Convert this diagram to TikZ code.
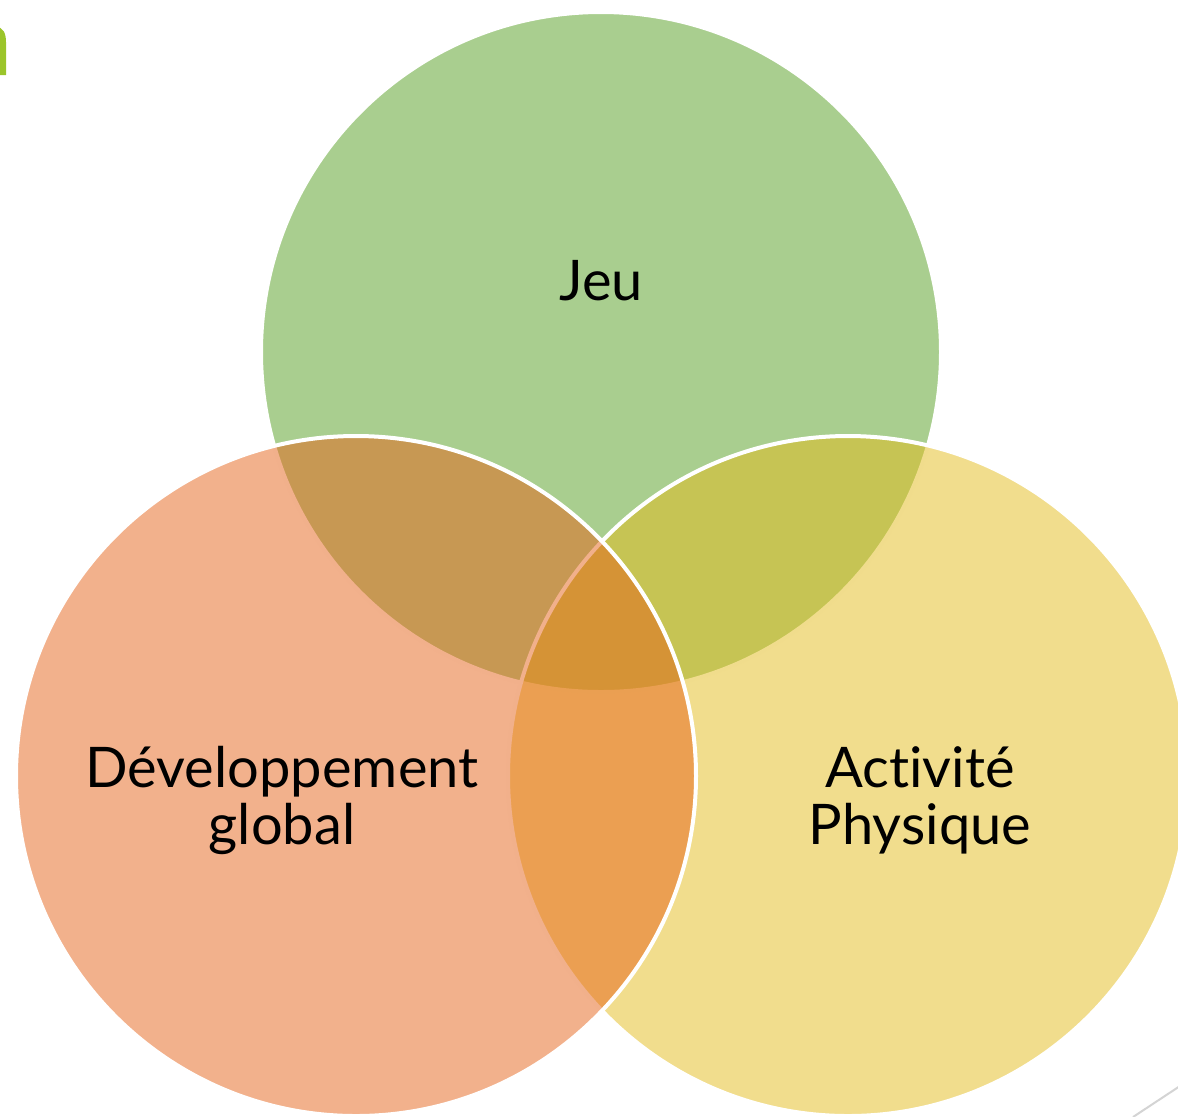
\documentclass[tikz,border=0pt]{standalone}
\usepackage{fontspec}
\setmainfont{Lato}[Ligatures={NoCommon}]
\usepackage{tikz}

\definecolor{jeucol}{HTML}{539D1F}
\definecolor{devcol}{HTML}{E56319}
\definecolor{actcol}{HTML}{E3BB1B}
\definecolor{barcol}{HTML}{9BC52A}
\definecolor{cornercol}{HTML}{D4D4D4}

\begin{document}
\begin{tikzpicture}[x=0.5pt, y=-0.5pt,
    venn/.style={circle, draw=white, line width=2pt, fill opacity=0.5, draw opacity=1, minimum size=340pt, inner sep=0pt},
    lbl/.style={align=center, text=black, font=\fontsize{28}{28.5}\selectfont}]
        \useasboundingbox (0,0) rectangle (1178,1116);

        % Title remnant and corner line
        \fill[barcol] (-30,75) -- (-30,27) -- (-4,27) .. controls (3,27) and (6,33) .. (6,42) -- (6,75) -- cycle;
        \coordinate (c1) at (1133,1117);
        \coordinate (c2) at (1180,1086);
        \draw[cornercol, line width=1pt] (c1) -- (c2);

        % Circles
        \node (jeu) [venn, fill=jeucol] at (601,352) {};
        \node (act) [venn, fill=actcol] at (848,776) {};
        \node (dev) [venn, fill=devcol] at (356,776) {};

        % Labels
        \node (jeutxt) [lbl, anchor=base] at (601,300) {Jeu};
        \node (acttxt) [lbl] at (920,800) {Activité\\Physique};
        \node (devtxt) [lbl] at (282,800) {Développement\\global};
    \end{tikzpicture}
\end{document}
